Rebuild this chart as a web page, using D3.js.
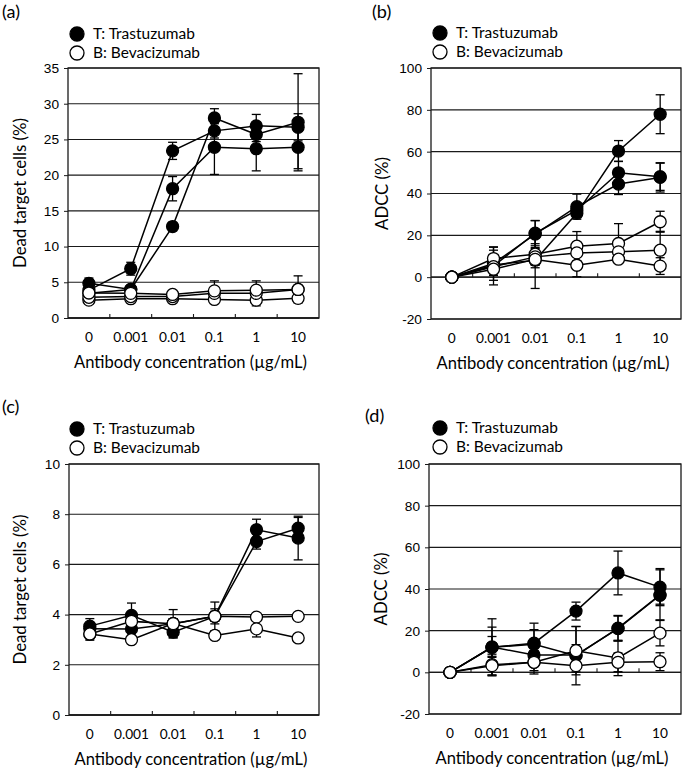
<!DOCTYPE html>
<html>
<head>
<meta charset="utf-8">
<script src="https://cdn.jsdelivr.net/npm/d3@7"></script>
<style>
  body { margin: 0; background: #fff; }
  svg { display: block; font-family: Lato, "Open Sans", sans-serif; }
</style>
</head>
<body>
<svg id="chart" width="685" height="770"></svg>
<script>
// Categories (antibody concentration, µg/mL)
const concentrations = ['0', '0.001', '0.01', '0.1', '1', '10'];

// Panel (a) dead target cells (%)
const aTrast = [
  [3.9, 6.9, 23.4, 26.2, 26.9, 26.7],
  [4.85, 4.0, 18.1, 23.9, 23.7, 23.9],
  [3.45, 4.0, 12.8, 28.0, 25.7, 27.4],
];
const aTrastErr = [
  [0.4, 0.9, 1.2, 1.0, 1.6, 1.9],
  [0.75, 0.3, 1.7, 3.8, 3.1, 3.0],
  [0.5, 0.3, 0.6, 1.3, 1.0, 6.8],
];
const aBeva = [
  [2.5, 2.7, 2.7, 2.6, 2.5, 2.75],
  [2.9, 3.0, 3.0, 3.45, 3.45, 4.0],
  [3.5, 3.45, 3.3, 3.8, 3.9, 4.0],
];
const aBevaErr = [
  [0.3, 0.3, 0.3, 0.3, 0.8, 0.3],
  [0.3, 0.3, 0.3, 0.4, 0.4, 0.3],
  [0.5, 0.4, 0.3, 1.4, 1.3, 1.9],
];

// Panel (b) ADCC (%)
const bTrast = [
  [0, 6.5, 20.6, 33.7, 44.5, 47.7],
  [0, 5.3, 21.0, 32.0, 49.9, 48.0],
  [0, 5.8, 8.1, 30.5, 60.3, 77.9],
];
const bTrastErr = [
  [0, 8.0, 6.5, 6.0, 5.0, 7.0],
  [0, 9.0, 6.0, 3.0, 5.5, 6.5],
  [0, 3.0, 13.5, 2.0, 5.0, 9.3],
];
const bBeva = [
  [0, 8.9, 11.0, 14.8, 16.1, 26.5],
  [0, 5.0, 9.7, 11.6, 12.1, 12.9],
  [0, 3.8, 8.5, 5.7, 8.6, 5.3],
];
const bBevaErr = [
  [0, 4.0, 5.0, 7.0, 9.5, 5.0],
  [0, 4.0, 4.0, 5.0, 4.0, 9.0],
  [0, 3.0, 4.0, 5.5, 2.0, 4.0],
];

// Panel (c) dead target cells (%)
const cTrast = [
  [3.54, 3.97, 3.30, 3.93, 7.38, 7.05],
  [3.44, 3.43, 3.64, 3.93, 6.91, 7.44],
];
const cTrastErr = [
  [0.30, 0.49, 0.23, 0.57, 0.42, 0.87],
  [0.20, 0.20, 0.56, 0.30, 0.30, 0.43],
];
const cBeva = [
  [3.23, 3.73, 3.64, 3.93, 3.90, 3.93],
  [3.23, 3.00, 3.64, 3.17, 3.43, 3.07],
];
const cBevaErr = [
  [0.25, 0.20, 0.20, 0.20, 0.10, 0.10],
  [0.20, 0.10, 0.20, 0.10, 0.32, 0.10],
];

// Panel (d) ADCC (%)
const dTrast = [
  [0, 12.0, 14.0, 29.4, 47.7, 40.9],
  [0, 12.0, 13.5, 8.0, 21.2, 37.2],
  [0, 12.2, 8.3, 8.3, 21.0, 37.0],
];
const dTrastErr = [
  [0, 13.7, 9.6, 4.3, 10.5, 8.9],
  [0, 9.7, 7.0, 14.0, 6.1, 12.0],
  [0, 5.0, 5.0, 5.0, 6.0, 4.3],
];
const dBeva = [
  [0, 3.7, 4.8, 10.4, 6.9, 18.8],
  [0, 3.2, 4.8, 3.2, 4.8, 5.1],
];
const dBevaErr = [
  [0, 5.0, 5.6, 11.6, 8.5, 6.1],
  [0, 4.5, 4.0, 3.0, 4.5, 4.3],
];

const legendLabels = ['T: Trastuzumab', 'B: Bevacizumab'];
const xTitle = 'Antibody concentration (µg/mL)';

const panels = [
  { tag: '(a)', tagX: 2, tagY: 18, box: [68, 319, 68, 318], domain: [0, 35], step: 5,
    yTitle: 'Dead target cells (%)', yTitleX: 22, legendX: 77, legendY: 34,
    t: aTrast, tErr: aTrastErr, b: aBeva, bErr: aBevaErr },
  { tag: '(b)', tagX: 372, tagY: 18, box: [431, 681, 68, 319], domain: [-20, 100], step: 20,
    yTitle: 'ADCC (%)', yTitleX: 384, legendX: 440, legendY: 33,
    t: bTrast, tErr: bTrastErr, b: bBeva, bErr: bBevaErr },
  { tag: '(c)', tagX: 2, tagY: 413, box: [69, 319, 464, 715], domain: [0, 10], step: 2,
    yTitle: 'Dead target cells (%)', yTitleX: 22, legendX: 77, legendY: 429,
    t: cTrast, tErr: cTrastErr, b: cBeva, bErr: cBevaErr },
  { tag: '(d)', tagX: 365, tagY: 422, box: [429, 681, 464, 714], domain: [-20, 100], step: 20,
    yTitle: 'ADCC (%)', yTitleX: 383, legendX: 440, legendY: 428,
    t: dTrast, tErr: dTrastErr, b: dBeva, bErr: dBevaErr },
];

const svg = d3.select('#chart');
const markerR = 6;

// pick font sizes so the text runs as wide as in the source figure
function fitSize(text, width) {
  const t = svg.append('text').attr('font-size', 100).text(text);
  const w = t.node().getComputedTextLength();
  t.remove();
  return 100 * width / w;
}
const legendSize = fitSize(legendLabels[0], 102);
const xTitleSize = fitSize(xTitle, 233);
const tickSize = fitSize('0.001', 35);
const yTitleSize = fitSize('Dead target cells (%)', 150);
const tagSize = fitSize('(a)', 18);

function drawPanel(p) {
  const [left, right, top, bottom] = p.box;
  const g = svg.append('g');

  const x = d3.scaleBand().domain(concentrations).range([left, right]);
  const y = d3.scaleLinear().domain(p.domain).range([bottom, top]);
  const yTicks = d3.range(p.domain[0], p.domain[1] + 0.001, p.step);

  // gridlines
  g.append('g')
    .selectAll('line')
    .data(yTicks)
    .join('line')
    .attr('x1', left).attr('x2', right)
    .attr('y1', d => y(d)).attr('y2', d => y(d))
    .attr('stroke', '#1a1a1a').attr('stroke-width', 1.1);

  // y axis with labels (plain hyphen for negatives, like the source)
  const yAxis = g.append('g')
    .attr('transform', `translate(${left},0)`)
    .call(d3.axisLeft(y).tickValues(yTicks).tickSize(4).tickPadding(5).tickFormat(d => String(d)));
  yAxis.select('.domain').remove();
  yAxis.selectAll('text').attr('font-size', tickSize).attr('fill', '#000').attr('font-family', null);
  yAxis.selectAll('line').attr('stroke', '#1a1a1a');

  // category axis sits at zero, labels at the bottom
  const zeroY = y(Math.max(0, p.domain[0]));
  g.append('line')
    .attr('x1', left).attr('x2', right)
    .attr('y1', zeroY).attr('y2', zeroY)
    .attr('stroke', '#1a1a1a').attr('stroke-width', 1.3);
  const bounds = concentrations.slice(1).map(c => x(c));
  g.append('g')
    .selectAll('line')
    .data(bounds)
    .join('line')
    .attr('x1', d => d).attr('x2', d => d)
    .attr('y1', zeroY).attr('y2', zeroY - 4)
    .attr('stroke', '#1a1a1a').attr('stroke-width', 1.1);
  g.append('g')
    .selectAll('text')
    .data(concentrations)
    .join('text')
    .attr('x', d => x(d) + x.bandwidth() / 2)
    .attr('y', bottom + 24)
    .attr('text-anchor', 'middle')
    .attr('font-size', tickSize)
    .text(d => d);

  // plot frame
  g.append('rect')
    .attr('x', left).attr('y', top)
    .attr('width', right - left).attr('height', bottom - top)
    .attr('fill', 'none').attr('stroke', '#1a1a1a').attr('stroke-width', 1.3);

  // titles
  g.append('text')
    .attr('x', (left + right) / 2 - 3)
    .attr('y', bottom + 50)
    .attr('text-anchor', 'middle')
    .attr('font-size', xTitleSize)
    .text(xTitle);
  g.append('text')
    .attr('transform', `translate(${p.yTitleX},${(top + bottom) / 2}) rotate(-90)`)
    .attr('text-anchor', 'middle')
    .attr('dominant-baseline', 'middle')
    .attr('font-size', yTitleSize)
    .text(p.yTitle);
  svg.append('text')
    .attr('x', p.tagX).attr('y', p.tagY)
    .attr('font-size', tagSize)
    .text(p.tag);

  // series
  const cx = i => x(concentrations[i]) + x.bandwidth() / 2;
  const line = d3.line().x((d, i) => cx(i)).y(d => y(d));
  const groups = [
    { vals: p.t, errs: p.tErr, fill: '#000' },
    { vals: p.b, errs: p.bErr, fill: '#fff' },
  ];

  // error bars
  groups.forEach(s => {
    s.vals.forEach((vals, k) => {
      const errs = s.errs[k];
      const eg = g.append('g').attr('stroke', '#000').attr('stroke-width', 1.3);
      vals.forEach((v, i) => {
        if (!errs[i]) return;
        const xi = cx(i);
        eg.append('line').attr('x1', xi).attr('x2', xi)
          .attr('y1', y(v - errs[i])).attr('y2', y(v + errs[i]));
        [v - errs[i], v + errs[i]].forEach(e => {
          eg.append('line').attr('x1', xi - 4.5).attr('x2', xi + 4.5)
            .attr('y1', y(e)).attr('y2', y(e));
        });
      });
    });
  });

  groups.forEach(s => {
    s.vals.forEach(vals => {
      g.append('path')
        .datum(vals)
        .attr('d', line)
        .attr('fill', 'none')
        .attr('stroke', '#000')
        .attr('stroke-width', 1.5);
    });
  });

  groups.forEach(s => {
    s.vals.forEach(vals => {
      g.append('g')
        .selectAll('circle')
        .data(vals)
        .join('circle')
        .attr('cx', (d, i) => cx(i))
        .attr('cy', d => y(d))
        .attr('r', markerR)
        .attr('fill', s.fill)
        .attr('stroke', '#000')
        .attr('stroke-width', 1.3);
    });
  });

  // legend
  const lg = svg.append('g');
  legendLabels.forEach((label, i) => {
    const ly = p.legendY + i * 19;
    lg.append('circle')
      .attr('cx', p.legendX).attr('cy', ly).attr('r', 7)
      .attr('fill', i === 0 ? '#000' : '#fff')
      .attr('stroke', '#000').attr('stroke-width', 1.3);
    lg.append('text')
      .attr('x', p.legendX + 16).attr('y', ly + 5)
      .attr('font-size', legendSize)
      .text(label);
  });
}

panels.forEach(drawPanel);
</script>
</body>
</html>
